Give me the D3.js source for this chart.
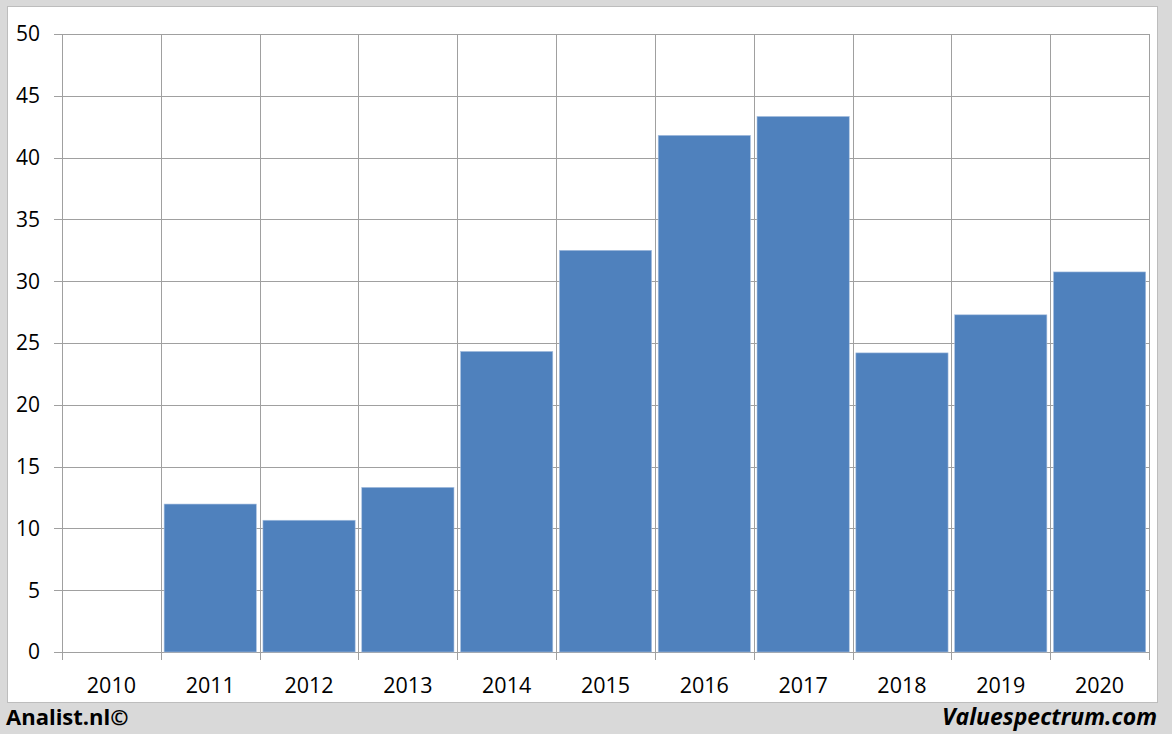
<!DOCTYPE html>
<html><head><meta charset="utf-8">
<script src="https://cdn.jsdelivr.net/npm/d3@7"></script>
<style>
html,body{margin:0;padding:0;background:#d9d9d9;}
svg{display:block;}
</style></head>
<body>
<svg id="c" width="1172" height="734"></svg>
<script>
const categories = ["2010","2011","2012","2013","2014","2015","2016","2017","2018","2019","2020"];
const values = [null, 11.97, 10.66, 13.32, 24.32, 32.5, 41.8, 43.33, 24.2, 27.28, 30.75];
const yTicks = [0,5,10,15,20,25,30,35,40,45,50];
const leftCredit = "Analist.nl©";
const rightCredit = "Valuespectrum.com";

const svg = d3.select("#c");
const W = 1172, H = 734;
const font = "'Open Sans', 'Liberation Sans', sans-serif";
svg.append("rect").attr("x",0).attr("y",0).attr("width",W).attr("height",H).attr("fill","#d9d9d9");
svg.append("rect").attr("x",7.5).attr("y",6.5).attr("width",1150).attr("height",696)
  .attr("fill","#ffffff").attr("stroke","#bdbdbd").attr("stroke-width",1);

const m = {left:62, right:1149, top:34, bottom:652};
const x = d3.scaleBand().domain(categories).range([m.left, m.right]).paddingInner(0).paddingOuter(0);
const y = d3.scaleLinear().domain([0,50]).range([m.bottom, m.top]);

const g = svg.append("g");
g.selectAll("line.h").data(yTicks).join("line")
  .attr("x1", m.left-8).attr("x2", m.right)
  .attr("y1", d=>Math.round(y(d))+0.5).attr("y2", d=>Math.round(y(d))+0.5)
  .attr("stroke","#a0a0a0").attr("stroke-width",1);
const bounds = categories.map(c=>x(c)).concat([m.right]);
g.selectAll("line.v").data(bounds).join("line")
  .attr("x1", d=>Math.round(d)+0.5).attr("x2", d=>Math.round(d)+0.5)
  .attr("y1", m.top).attr("y2", m.bottom+8)
  .attr("stroke","#a0a0a0").attr("stroke-width",1);

const bw = x.bandwidth();
const gap = 3.3;
g.selectAll("rect.bar").data(categories.map((c,i)=>({c, v:values[i]})).filter(d=>d.v!=null)).join("rect")
  .attr("x", d=>x(d.c)+gap).attr("width", bw-2*gap)
  .attr("y", d=>y(d.v)).attr("height", d=>y(0)-y(d.v))
  .attr("fill","#4f81bd").attr("stroke","#a9c0df").attr("stroke-width",0.6);

g.selectAll("text.y").data(yTicks).join("text")
  .attr("x", 40).attr("y", d=>y(d)).attr("dy","0.35em")
  .attr("text-anchor","end").attr("font-family",font).attr("font-size",21).attr("fill","#000")
  .text(d=>d);
g.selectAll("text.x").data(categories).join("text")
  .attr("x", d=>x(d)+bw/2).attr("y", 685).attr("dy","0.35em")
  .attr("text-anchor","middle").attr("font-family",font).attr("font-size",21.5).attr("fill","#000")
  .text(d=>d);

svg.append("text").attr("x",6).attr("y",717).attr("dy","0.35em")
  .attr("font-family",font).attr("font-weight","bold").attr("font-size",22).attr("fill","#000")
  .text(leftCredit);
svg.append("text").attr("x",1157).attr("y",717).attr("dy","0.35em").attr("text-anchor","end")
  .attr("font-family",font).attr("font-weight","bold").attr("font-style","italic").attr("font-size",23).attr("fill","#000")
  .text(rightCredit);
</script>
</body></html>
